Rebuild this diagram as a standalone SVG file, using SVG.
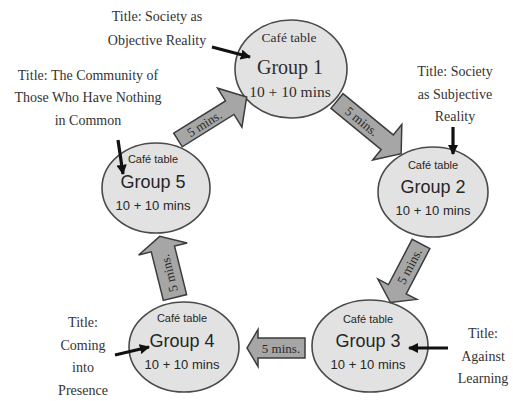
<svg xmlns="http://www.w3.org/2000/svg" width="513" height="401" viewBox="0 0 513 401">
<style>
.node ellipse{fill:#e2e2e2;stroke:#4a4a4a;stroke-width:1.6}
.s{font-family:"Liberation Sans",Arial,sans-serif;fill:#262626;text-anchor:middle}
.r{font-family:"Liberation Serif","Times New Roman",serif;fill:#2e2e2e;text-anchor:middle}
.t{font-family:"Liberation Serif","Times New Roman",serif;fill:#333;text-anchor:middle;font-size:14px}
.blk polygon{fill:#a6a6a6;stroke:#3c3c3c;stroke-width:1.5;stroke-linejoin:miter}
.blk text{font-family:"Liberation Serif","Times New Roman",serif;fill:#2a2a2a;text-anchor:middle;font-size:13px}
.ptr{stroke:#111;stroke-width:3.2;fill:none;marker-end:url(#ah)}
</style>
<defs>
<marker id="ah" viewBox="0 0 10 10" refX="9" refY="5" markerWidth="3.2" markerHeight="3.2" orient="auto" markerUnits="strokeWidth">
<path d="M0,0 L10,5 L0,10 Z" fill="#111"/>
</marker>
</defs>
<rect width="513" height="401" fill="#fff"/>

<g id="titles">
<text class="t" x="157" y="21">Title: Society as</text>
<text class="t" x="157" y="45">Objective Reality</text>
<text class="t" x="88" y="80">Title: The Community of</text>
<text class="t" x="88" y="102">Those Who Have Nothing</text>
<text class="t" x="88" y="125">in Common</text>
<text class="t" x="455" y="76">Title: Society</text>
<text class="t" x="455" y="99">as Subjective</text>
<text class="t" x="455" y="121">Reality</text>
<text class="t" x="83" y="327">Title:</text>
<text class="t" x="83" y="350">Coming</text>
<text class="t" x="83" y="372">into</text>
<text class="t" x="83" y="395">Presence</text>
<text class="t" x="483" y="338">Title:</text>
<text class="t" x="483" y="361">Against</text>
<text class="t" x="483" y="383">Learning</text>
</g>

<g id="group1" class="node">
<ellipse cx="291" cy="69" rx="56" ry="49"/>
<text class="r" x="289" y="42" font-size="13.5">Café table</text>
<text class="r" x="290" y="74" font-size="20">Group 1</text>
<text class="r" x="290" y="97" font-size="15.5">10 + 10 mins</text>
</g>
<g id="group2" class="node">
<ellipse cx="433" cy="192" rx="55" ry="45"/>
<text class="s" x="433" y="169" font-size="11">Café table</text>
<text class="s" x="433" y="193" font-size="18">Group 2</text>
<text class="s" x="433" y="215" font-size="13">10 + 10 mins</text>
</g>
<g id="group3" class="node">
<ellipse cx="370" cy="346" rx="58" ry="46"/>
<text class="s" x="368" y="323" font-size="11">Café table</text>
<text class="s" x="368" y="347" font-size="18">Group 3</text>
<text class="s" x="368" y="369" font-size="13">10 + 10 mins</text>
</g>
<g id="group4" class="node">
<ellipse cx="184" cy="347" rx="55" ry="45"/>
<text class="s" x="182" y="322" font-size="11">Café table</text>
<text class="s" x="182" y="347" font-size="18">Group 4</text>
<text class="s" x="182" y="369" font-size="13">10 + 10 mins</text>
</g>
<g id="group5" class="node">
<ellipse cx="156" cy="188" rx="54" ry="45"/>
<text class="s" x="153" y="163" font-size="11">Café table</text>
<text class="s" x="153" y="188" font-size="18">Group 5</text>
<text class="s" x="153" y="210" font-size="13">10 + 10 mins</text>
</g>

<g id="connectors">
<g class="blk" transform="translate(178,140) rotate(-32)">
<polygon points="0,-8 61,-8 61,-23 81,0 61,23 61,8 0,8"/>
<text x="31" y="4.5">5 mins.</text>
</g>
<g class="blk" transform="translate(337,101) rotate(39.4)">
<polygon points="0,-9.5 65,-9.5 65,-23 83,0 65,23 65,9.5 0,9.5"/>
<text x="32" y="4.5">5 mins.</text>
</g>
<g class="blk" transform="translate(421,244) rotate(117.6)">
<polygon points="0,-10 51,-10 51,-22 66,0 51,22 51,10 0,10"/>
<text x="25" y="4.5" transform="rotate(180,25,0)">5 mins.</text>
</g>
<g class="blk" transform="translate(305,348) rotate(180)">
<polygon points="0,-10 47,-10 47,-18.5 58,0 47,18.5 47,10 0,10"/>
<text x="24" y="4.5" transform="rotate(180,24,0)">5 mins.</text>
</g>
<g class="blk" transform="translate(175,297.5) rotate(-104)">
<polygon points="0,-12 50,-12 50,-25 63,0 50,25 50,12 0,12"/>
<text x="25" y="4.5">5 mins.</text>
</g>
<line class="ptr" x1="212" y1="47" x2="250" y2="57"/>
<line class="ptr" x1="453" y1="127" x2="453" y2="154"/>
<line class="ptr" x1="448" y1="348" x2="409" y2="348"/>
<line class="ptr" x1="115" y1="355" x2="149" y2="347"/>
<line class="ptr" x1="118" y1="140" x2="123" y2="174"/>
</g>
</svg>
